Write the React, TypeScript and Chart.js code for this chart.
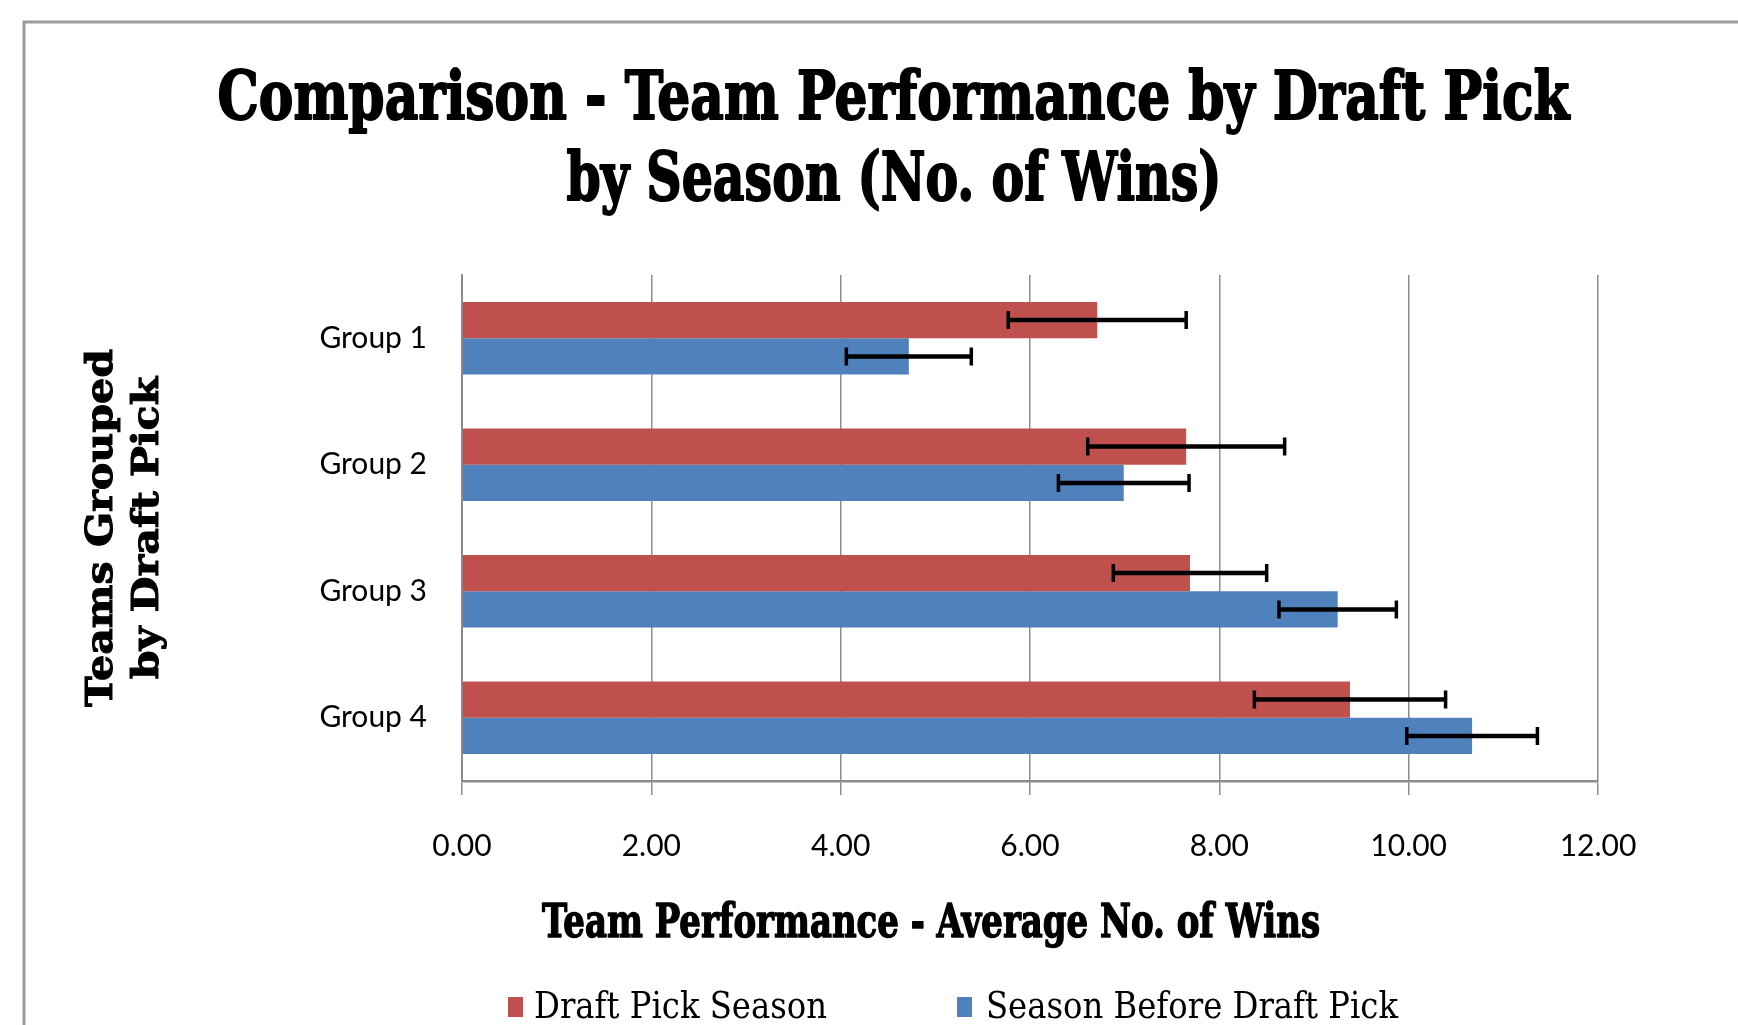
import React, { useEffect, useRef } from "react";
import { Chart, registerables } from "chart.js";

Chart.register(...registerables);

// ---------- data ----------
const categories = ["Group 1", "Group 2", "Group 3", "Group 4"];
const seriesNames = ["Draft Pick Season", "Season Before Draft Pick"];
const seriesColors = ["#C0504D", "#4F81BD"];
const draftPickSeason = [6.71, 7.65, 7.69, 9.38];
const seasonBeforeDraft = [4.72, 6.99, 9.25, 10.67];
const draftPickSeasonErr = [0.94, 1.04, 0.81, 1.01];
const seasonBeforeDraftErr = [0.66, 0.69, 0.62, 0.69];
const xTickValues = [0, 2, 4, 6, 8, 10, 12];
const titleLines = ["Comparison - Team Performance by Draft Pick", "by Season (No. of Wins)"];
const xAxisTitle = "Team Performance - Average No. of Wins";
const yAxisTitleLines = ["Teams Grouped", "by Draft Pick"];

const errorArrays = [draftPickSeasonErr, seasonBeforeDraftErr];

const W = 1738;
const H = 1025;

function fittedText(
  ctx: CanvasRenderingContext2D,
  text: string,
  font: string,
  targetWidth: number
): number {
  ctx.font = font;
  const w = ctx.measureText(text).width;
  return targetWidth / w;
}

function drawScaled(
  ctx: CanvasRenderingContext2D,
  text: string,
  x: number,
  y: number,
  font: string,
  sx: number,
  align: CanvasTextAlign,
  stroke = 0
) {
  ctx.save();
  ctx.font = font;
  ctx.textAlign = align;
  ctx.textBaseline = "alphabetic";
  ctx.translate(x, y);
  ctx.scale(sx, 1);
  ctx.fillText(text, 0, 0);
  if (stroke > 0) {
    ctx.strokeStyle = ctx.fillStyle as string;
    ctx.lineWidth = stroke;
    ctx.lineJoin = "round";
    ctx.strokeText(text, 0, 0);
  }
  ctx.restore();
}

const errorBarPlugin = {
  id: "errorBars",
  afterDatasetsDraw(chart: any) {
    const ctx: CanvasRenderingContext2D = chart.ctx;
    const xScale = chart.scales.x;
    ctx.save();
    ctx.strokeStyle = "#000";
    ctx.lineWidth = 4.5;
    chart.data.datasets.forEach((ds: any, di: number) => {
      const meta = chart.getDatasetMeta(di);
      const errs = errorArrays[di];
      meta.data.forEach((bar: any, i: number) => {
        const v = ds.data[i];
        const e = errs[i];
        const x0 = xScale.getPixelForValue(v - e);
        const x1 = xScale.getPixelForValue(v + e);
        const y = bar.y;
        const cap = 9;
        ctx.beginPath();
        ctx.moveTo(x0, y);
        ctx.lineTo(x1, y);
        ctx.stroke();
        ctx.lineWidth = 3.5;
        ctx.beginPath();
        ctx.moveTo(x0, y - cap);
        ctx.lineTo(x0, y + cap);
        ctx.moveTo(x1, y - cap);
        ctx.lineTo(x1, y + cap);
        ctx.stroke();
        ctx.lineWidth = 4.5;
      });
    });
    ctx.restore();
  },
};

const decorPlugin = {
  id: "decor",
  beforeDraw(chart: any) {
    const ctx: CanvasRenderingContext2D = chart.ctx;
    ctx.save();
    ctx.fillStyle = "#fff";
    ctx.fillRect(0, 0, chart.width, chart.height);
    ctx.strokeStyle = "#9c9c9c";
    ctx.lineWidth = 3;
    ctx.beginPath();
    ctx.moveTo(24, chart.height + 5);
    ctx.lineTo(24, 22);
    ctx.lineTo(chart.width + 5, 22);
    ctx.stroke();
    ctx.restore();
  },
  afterDraw(chart: any) {
    const ctx: CanvasRenderingContext2D = chart.ctx;
    ctx.save();
    ctx.fillStyle = "#000";

    // main title
    const tFont = 'bold 67px "DejaVu Serif"';
    const ts1 = fittedText(ctx, titleLines[0], tFont, 1352);
    const ts2 = fittedText(ctx, titleLines[1], tFont, 655);
    drawScaled(ctx, titleLines[0], 893.5, 118.5, tFont, ts1, "center", 2);
    drawScaled(ctx, titleLines[1], 894, 199.5, tFont, ts2, "center", 2);

    // x axis title
    const xFont = 'bold 46px "DejaVu Serif"';
    const xs = fittedText(ctx, xAxisTitle, xFont, 778);
    drawScaled(ctx, xAxisTitle, 931, 937, xFont, xs, "center", 1.5);

    // y axis title (rotated)
    const yFont = 'bold 37px "DejaVu Serif"';
    const ys = fittedText(ctx, yAxisTitleLines[0], yFont, 358);
    const midY = (chart.chartArea.top + chart.chartArea.bottom) / 2;
    const baselines = [112, 158];
    yAxisTitleLines.forEach((line, i) => {
      ctx.save();
      ctx.translate(baselines[i], midY);
      ctx.rotate(-Math.PI / 2);
      ctx.font = yFont;
      ctx.textAlign = "center";
      ctx.textBaseline = "alphabetic";
      ctx.scale(ys, 1);
      ctx.fillText(line, 0, 0);
      ctx.strokeStyle = "#000";
      ctx.lineWidth = 1;
      ctx.strokeText(line, 0, 0);
      ctx.restore();
    });

    // legend
    const lFont = '38px "DejaVu Serif"';
    const boxX = [508, 957];
    const textX = [534, 986];
    const textW = [293, 412];
    chart.data.datasets.forEach((ds: any, i: number) => {
      ctx.fillStyle = ds.backgroundColor;
      ctx.fillRect(boxX[i], 997, 15, 20);
      ctx.fillStyle = "#000";
      const s = fittedText(ctx, ds.label, lFont, textW[i]);
      drawScaled(ctx, ds.label, textX[i], 1018, lFont, s, "left");
    });
    ctx.restore();
  },
};

export default function App() {
  const canvasRef = useRef<HTMLCanvasElement | null>(null);

  useEffect(() => {
    const canvas = canvasRef.current;
    if (!canvas) return;
    const chart = new Chart(canvas, {
      type: "bar",
      data: {
        labels: categories,
        datasets: [
          {
            label: seriesNames[0],
            data: draftPickSeason,
            backgroundColor: seriesColors[0],
            borderWidth: 0,
            categoryPercentage: 0.575,
            barPercentage: 1,
          },
          {
            label: seriesNames[1],
            data: seasonBeforeDraft,
            backgroundColor: seriesColors[1],
            borderWidth: 0,
            categoryPercentage: 0.575,
            barPercentage: 1,
          },
        ],
      },
      options: {
        indexAxis: "y",
        responsive: false,
        animation: false,
        devicePixelRatio: 1,
        layout: { padding: { top: 275, left: 0, right: 140, bottom: H - 781 - 83 } },
        plugins: {
          legend: { display: false },
          title: { display: false },
          tooltip: { enabled: false },
        },
        scales: {
          x: {
            type: "linear",
            position: "bottom",
            min: 0,
            max: 12,
            afterBuildTicks: (s: any) => {
              s.ticks = xTickValues.map((v) => ({ value: v }));
            },
            ticks: {
              callback: (v: any) => Number(v).toFixed(2),
              padding: 33,
              color: "#000",
              maxRotation: 0,
              autoSkip: false,
              font: { family: "Lato", size: 30 },
            },
            grid: { color: "#8c8c8c", lineWidth: 1.5, tickLength: 14, drawTicks: true },
            border: { color: "#8c8c8c", width: 2.5 },
            afterFit: (s: any) => {
              s.height = 83;
            },
          },
          y: {
            type: "category",
            ticks: {
              padding: 35,
              color: "#000",
              font: { family: "Lato", size: 30 },
            },
            grid: { display: false, drawTicks: false },
            border: { display: true, color: "#8c8c8c", width: 2 },
            afterFit: (s: any) => {
              s.width = 462;
            },
          },
        },
      } as any,
      plugins: [decorPlugin, errorBarPlugin],
    });
    return () => chart.destroy();
  }, []);

  return (
    <div
      style={{
        position: "absolute",
        left: 0,
        top: 0,
        width: W,
        height: H,
        overflow: "hidden",
        background: "#fff",
      }}
    >
      <canvas ref={canvasRef} width={W} height={H} style={{ display: "block" }} />
    </div>
  );
}
